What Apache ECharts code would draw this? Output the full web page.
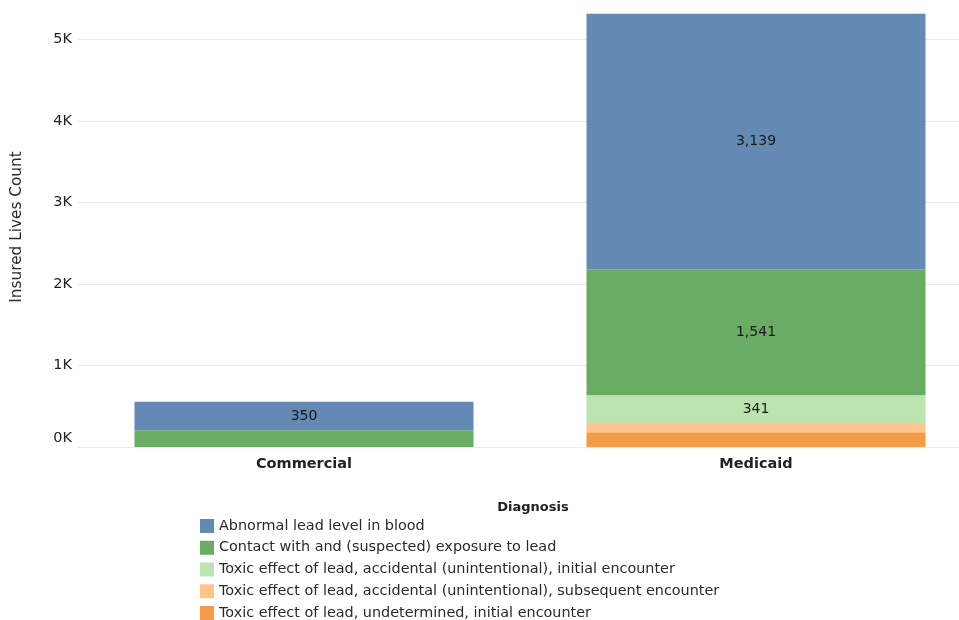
<!DOCTYPE html>
<html><head><meta charset="utf-8">
<script src="https://cdn.jsdelivr.net/npm/echarts@6/dist/echarts.min.js"></script>
<style>html,body{margin:0;padding:0;background:#fff}#c{width:959px;height:620px}</style>
</head><body><div id="c"></div>
<script>
const categories = ['Commercial', 'Medicaid'];
const seriesNames = [
  'Toxic effect of lead, undetermined, initial encounter',
  'Toxic effect of lead, accidental (unintentional), subsequent encounter',
  'Toxic effect of lead, accidental (unintentional), initial encounter',
  'Contact with and (suspected) exposure to lead',
  'Abnormal lead level in blood'
];
const undeterminedInitial = [0, 180];
const accidentalSubsequent = [0, 115];
const accidentalInitial = [0, 341];
const contactExposure = [205, 1541];
const abnormalBlood = [350, 3139];
const labelled = [
  [false, false], [false, false], [false, true], [false, true], [true, true]
];
const legendOrder = [4, 3, 2, 1, 0];
const colors = ['#f39c48', '#ffc58d', '#bce4b1', '#6aac63', '#6489b2'];
const allData = [undeterminedInitial, accidentalSubsequent, accidentalInitial, contactExposure, abnormalBlood];
const font = '"DejaVu Sans", sans-serif';

const chart = echarts.init(document.getElementById('c'), null, {renderer: 'canvas'});
chart.setOption({
  animation: false,
  textStyle: {fontFamily: font},
  grid: {left: 78, width: 904, top: 7, height: 440, containLabel: false, outerBoundsMode: 'none'},
  title: {
    text: 'Diagnosis', left: 528, top: 496, textAlign: 'center',
    textStyle: {fontSize: 13, fontWeight: 'bold', color: '#222', fontFamily: font}
  },
  legend: {
    orient: 'vertical', left: 195, top: 514, height: 130, itemWidth: 14, itemHeight: 14, itemGap: 7.75,
    icon: 'rect',
    data: legendOrder.map(i => seriesNames[i]),
    textStyle: {fontSize: 14.4, color: '#2a2a2a', fontFamily: font, padding: [0, 0, 0, 0]}
  },
  xAxis: {
    type: 'category', data: categories,
    axisLine: {show: false}, axisTick: {show: false},
    axisLabel: {fontSize: 14.5, fontWeight: 'bold', color: '#222', margin: 10, fontFamily: font}
  },
  yAxis: {
    type: 'value', min: 0, max: 5400, interval: 1000,
    name: 'Insured Lives Count', nameLocation: 'middle', nameGap: 53, nameRotate: 90,
    nameTextStyle: {fontSize: 15.3, color: '#2a2a2a', fontFamily: font},
    axisLine: {show: false}, axisTick: {show: false},
    axisLabel: {fontSize: 14.5, color: '#222', margin: 6, fontFamily: font,
      formatter: v => (v === 0 ? '{z|0K}' : (v % 1000 === 0 ? (v / 1000) + 'K' : '')),
      rich: {z: {fontSize: 14.5, color: '#222', fontFamily: font, padding: [0, 0, 18, 0]}}},
    splitLine: {showMaxLine: false, lineStyle: {color: '#e9e9e9', width: 1}}
  },
  series: seriesNames.map((name, si) => ({
    name, type: 'bar', stack: 'total', barCategoryGap: '25%',
    itemStyle: {color: colors[si]},
    data: allData[si].map((v, ci) => ({
      value: v,
      label: {show: labelled[si][ci] && v > 0}
    })),
    label: {
      position: 'inside', fontSize: 14, color: '#1a1a1a', fontFamily: font,
      formatter: p => p.value.toLocaleString('en-US')
    }
  }))
});
</script></body></html>
